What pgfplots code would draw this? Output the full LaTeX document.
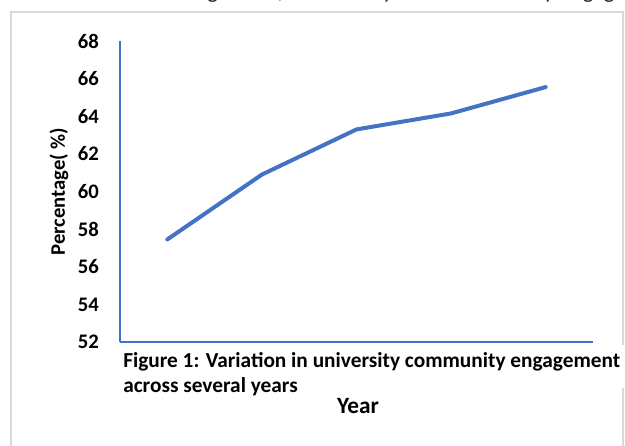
\documentclass[border=0pt]{standalone}
\usepackage{pgfplots}
\pgfplotsset{compat=1.18}
\usepackage{fontspec}
\setmainfont{Carlito}
\definecolor{linblue}{HTML}{4472C4}
\definecolor{framegray}{HTML}{D9D9D9}

\begin{document}
\begin{tikzpicture}[x=0.75pt,y=0.75pt]
\path[use as bounding box] (0,0) rectangle (625,446);
\clip (0,0) rectangle (625,446);
% line of page text above the chart, cut off by the screenshot
\node[anchor=base west, inner sep=0pt, font=\fontsize{17}{17}\selectfont, text=black!85] at (119.5,447.6) {the management, community and its university engagement};
% outer chart frame (px coordinates, y up)
\draw[framegray, line width=1.5pt] (11,-5) -- (11,434) -- (623,434) -- (623,101);
\draw[framegray, line width=1.5pt] (623,58) -- (623,-5);
\begin{axis}[
    at={(90pt,78pt)}, anchor=south west,
    scale only axis,
    width=354.75pt, height=225.75pt,
    xmin=0.5, xmax=5.5, ymin=52, ymax=68,
    xtick=\empty,
    ytick={52,54,...,68},
    axis lines*=left,
    axis line style={linblue, line width=0.8pt},
    major tick length=0pt,
    yticklabel style={font=\bfseries\fontsize{15.5}{15.5}\selectfont, anchor=east, inner sep=0pt, xshift=-15.75pt},
    /pgf/number format/assume math mode=true,
    ylabel={Percentage( \%)},
    ylabel style={font=\bfseries\fontsize{15.5}{15.5}\selectfont, at={(axis description cs:-0.129,0.5)}, anchor=center},
    xlabel={Year},
    xlabel style={font=\bfseries\fontsize{17.5}{17.5}\selectfont, at={(axis description cs:0.503,-0.236)}, anchor=base},
    clip=false,
]
\addplot[linblue, line width=3pt, line join=round, line cap=round]
    coordinates {(1,57.45) (2,60.9) (3,63.3) (4,64.15) (5,65.55)};
\end{axis}
\node[anchor=base west, inner sep=0pt, font=\bfseries\fontsize{16}{16}\selectfont] at (123,78) {Figure 1: Variation in university community engagement};
\node[anchor=base west, inner sep=0pt, font=\bfseries\fontsize{16}{16}\selectfont] at (123,53) {across several years};
\end{tikzpicture}
\end{document}
